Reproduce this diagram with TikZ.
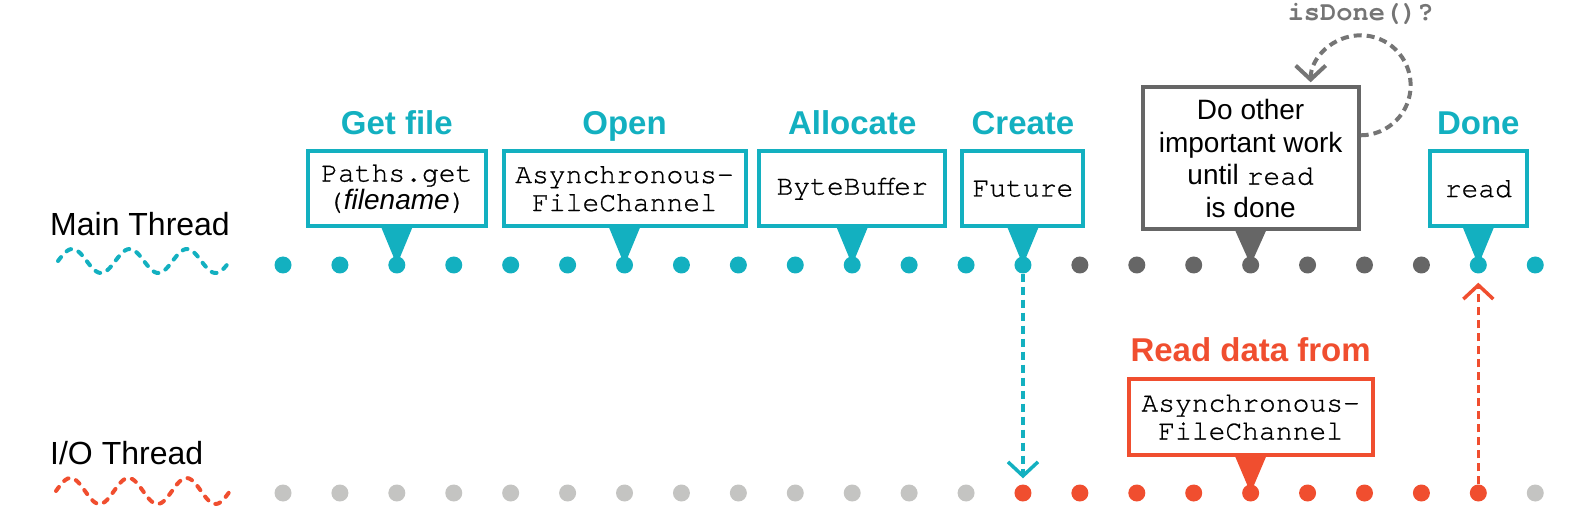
\documentclass[tikz,border=0pt]{standalone}
\usepackage{fontspec}
\setmainfont{Liberation Sans}
\setmonofont{TeX Gyre Cursor}[UprightFeatures={FakeBold=0.8}]
\usetikzlibrary{positioning,arrows.meta}
\definecolor{tealc}{HTML}{13B0C0}
\definecolor{grayc}{HTML}{666666}
\definecolor{orangec}{HTML}{F04E2F}
\definecolor{lightc}{HTML}{C4C4C2}
\definecolor{askc}{HTML}{757575}

\begin{document}
\begin{tikzpicture}[x=1pt, y=1pt,
    dot/.style={circle, inner sep=0pt, minimum size=17pt},
    box/.style={draw=#1, line width=4pt, fill=white, text=black, align=center, inner sep=0pt,
                minimum height=75pt, font=\fontsize{28}{28}\selectfont\ttfamily},
    title/.style={anchor=base, font=\fontsize{33}{33}\selectfont\bfseries},
    thread/.style={anchor=base west, inner sep=0pt, font=\fontsize{32}{32}\selectfont},
    wave/.style={line width=4pt, line cap=round, dash pattern=on 5pt off 8pt},
    call/.style={line width=3.5pt, dash pattern=on 8pt off 5pt,
                 -{Straight Barb[length=14pt,width=30pt]}}]

   \useasboundingbox (0,0) rectangle (1594,-526);

   \foreach \a/\b/\col in {0/13/tealc, 14/20/grayc, 21/22/tealc}
     \foreach \i in {\a,...,\b}
       \node[dot, fill=\col] (m\i) at (283+56.92*\i, -265) {};
   \foreach \a/\b/\col in {0/12/lightc, 13/21/orangec, 22/22/lightc}
     \foreach \i in {\a,...,\b}
       \node[dot, fill=\col] (io\i) at (283+56.92*\i, -493) {};

   \node[thread] (main) at (50,-236) {Main Thread};
   \node[thread] (iot) at (50,-464) {I/O Thread};
   \draw[wave, tealc] plot[domain=0:3, samples=90, smooth] ({58+57.3*\x}, {-261+12*sin(360*\x)});
   \draw[wave, orangec] plot[domain=0:3, samples=90, smooth] ({56+58*\x}, {-491+13*sin(360*\x)});

   \node[box=tealc, minimum width=178pt, above=28pt of m2] (get) {Paths.get\\({\rmfamily\itshape filename})};
   \node[box=tealc, minimum width=242pt, above=28pt of m6] (open) {Asynchronous-\\FileChannel};
   \node[box=tealc, minimum width=186pt, above=28pt of m10] (alloc) {ByteBuffer};
   \node[box=tealc, minimum width=121pt, above=28pt of m13] (create) {Future};
   \node[box=grayc, minimum width=216pt, minimum height=142pt, above=25pt of m17,
         font=\fontsize{28}{32.6}\selectfont\rmfamily] (do) {Do other\\important work\\until \texttt{read}\\is done};
   \node[box=tealc, minimum width=97pt, above=28pt of m21] (done) {read};
   \node[box=orangec, minimum width=244pt, minimum height=76pt, above=27pt of io17] (rd) {Asynchronous-\\FileChannel};

   \foreach \b/\t in {get/Get file, open/Open, alloc/Allocate, create/Create, done/Done}
     \node[title, text=tealc] (t\b) at ([yshift=15pt]\b.north) {\t};
   \node[title, text=orangec] (trd) at ([yshift=16pt]rd.north) {Read data from};

   \foreach \b/\d/\col in {get/m2/tealc, open/m6/tealc, alloc/m10/tealc, create/m13/tealc,
                           do/m17/grayc, done/m21/tealc, rd/io17/orangec}
     \fill[\col] ([xshift=-16pt, yshift=2pt]\b.south) -- ([xshift=16pt, yshift=2pt]\b.south)
        -- (\d.center) -- cycle;

   \draw[call, tealc, shorten >=6pt] (m13) -- (io13);
   \draw[call, orangec, shorten >=9pt] (io21) -- (m21);

   \node[text=askc, font=\fontsize{27}{27}\selectfont\ttfamily\bfseries] (ask)
      at ([yshift=71pt]do.north east) {isDone()?};
   \draw[call, askc, line width=4pt, shorten >=3pt] ([yshift=-50pt]do.north east)
      arc[start angle=-90, end angle=180, radius=50pt];

\end{tikzpicture}
\end{document}
